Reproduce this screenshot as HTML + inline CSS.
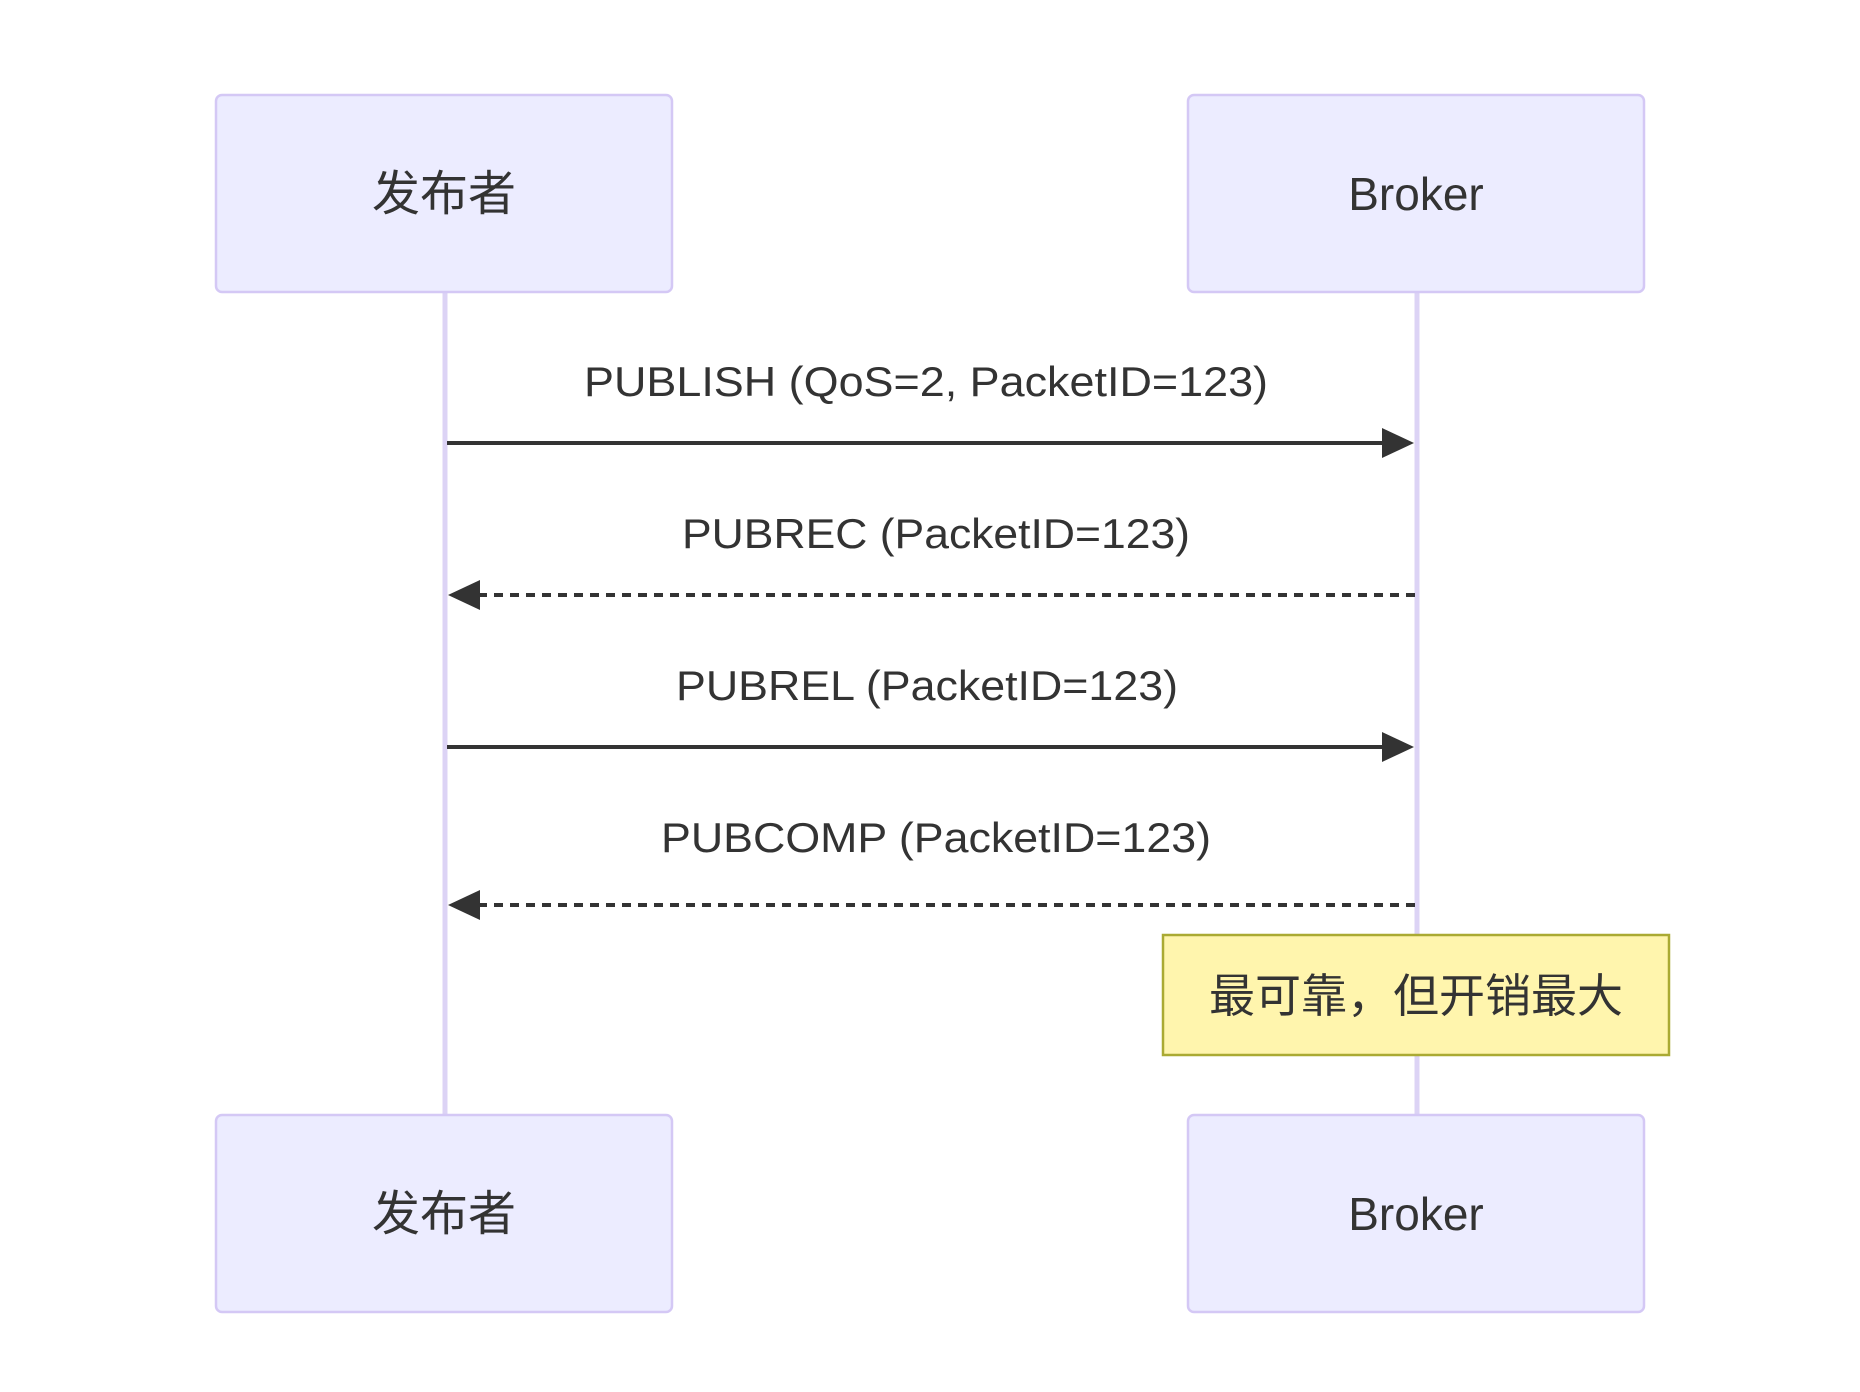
<!DOCTYPE html>
<html><head><meta charset="utf-8"><style>
html,body{margin:0;padding:0;background:#fff;}
svg{display:block;}
text{font-family:"Liberation Sans","Noto Sans CJK SC",sans-serif;fill:#333;}
</style></head><body>
<svg width="1860" height="1392" viewBox="0 0 1860 1392" xmlns="http://www.w3.org/2000/svg">
<defs>
<marker id="ah" markerWidth="12" markerHeight="12" refX="11" refY="6" orient="auto" markerUnits="userSpaceOnUse" viewBox="0 0 12 12">
</marker>
</defs>
<line x1="445" y1="292" x2="445" y2="1115" stroke="#dcd3f5" stroke-width="5"/>
<line x1="1417" y1="292" x2="1417" y2="1115" stroke="#dcd3f5" stroke-width="5"/>
<rect x="216" y="95" width="456" height="197" rx="6" fill="#ececff" stroke="#d4c8f5" stroke-width="2.5"/>
<rect x="1188" y="95" width="456" height="197" rx="6" fill="#ececff" stroke="#d4c8f5" stroke-width="2.5"/>
<rect x="216" y="1115" width="456" height="197" rx="6" fill="#ececff" stroke="#d4c8f5" stroke-width="2.5"/>
<rect x="1188" y="1115" width="456" height="197" rx="6" fill="#ececff" stroke="#d4c8f5" stroke-width="2.5"/>
<text x="444" y="210" font-size="48" text-anchor="middle" fill="#222">发布者</text>
<text x="1416" y="210" font-size="46" text-anchor="middle" fill="#222">Broker</text>
<text x="444" y="1230" font-size="48" text-anchor="middle" fill="#222">发布者</text>
<text x="1416" y="1230" font-size="46" text-anchor="middle" fill="#222">Broker</text>

<text x="926" y="396" font-size="42" text-anchor="middle" textLength="684" lengthAdjust="spacingAndGlyphs">PUBLISH (QoS=2, PacketID=123)</text>
<line x1="447" y1="443" x2="1385" y2="443" stroke="#333" stroke-width="4"/>
<polygon points="1382,428 1414,443 1382,458" fill="#333"/>

<text x="936" y="548" font-size="42" text-anchor="middle" textLength="508" lengthAdjust="spacingAndGlyphs">PUBREC (PacketID=123)</text>
<line x1="478" y1="595" x2="1415" y2="595" stroke="#333" stroke-width="4" stroke-dasharray="9,7"/>
<polygon points="480,580 448,595 480,610" fill="#333"/>

<text x="927" y="700" font-size="42" text-anchor="middle" textLength="502" lengthAdjust="spacingAndGlyphs">PUBREL (PacketID=123)</text>
<line x1="447" y1="747" x2="1385" y2="747" stroke="#333" stroke-width="4"/>
<polygon points="1382,732 1414,747 1382,762" fill="#333"/>

<text x="936" y="852" font-size="42" text-anchor="middle" textLength="550" lengthAdjust="spacingAndGlyphs">PUBCOMP (PacketID=123)</text>
<line x1="478" y1="905" x2="1415" y2="905" stroke="#333" stroke-width="4" stroke-dasharray="9,7"/>
<polygon points="480,890 448,905 480,920" fill="#333"/>

<rect x="1163" y="935" width="506" height="120" fill="#fff5ad" stroke="#aaaa33" stroke-width="2.5"/>
<text x="1416" y="1012" font-size="46" text-anchor="middle" fill="#222">最可靠，但开销最大</text>
</svg>
</body></html>
